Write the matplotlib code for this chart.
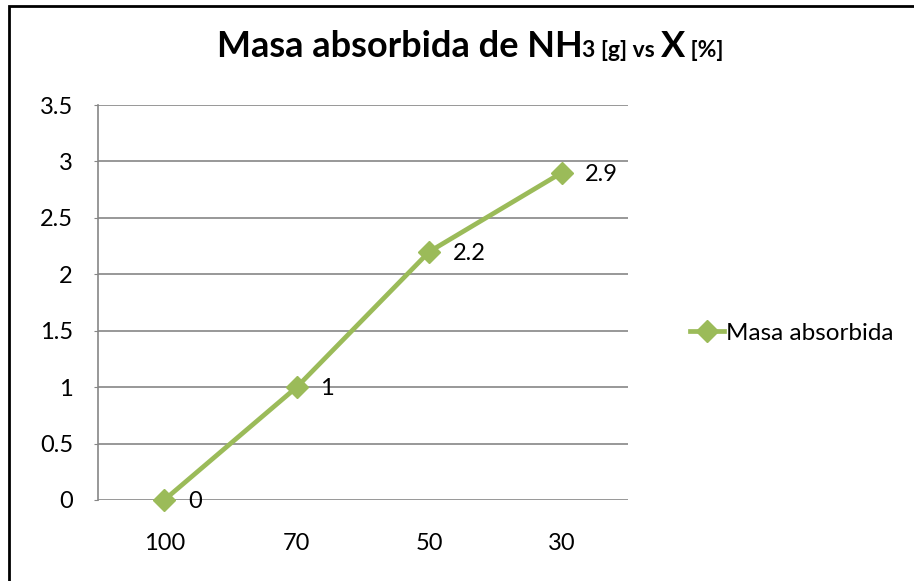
import matplotlib
matplotlib.use('Agg')
import matplotlib.pyplot as plt
from matplotlib.patches import Rectangle

# Datos del grafico
categorias = ['100', '70', '50', '30']
masa_absorbida = [0, 1, 2.2, 2.9]
etiquetas = ['0', '1', '2.2', '2.9']
yticks = [0, 0.5, 1, 1.5, 2, 2.5, 3, 3.5]
ytick_labels = ['0', '0.5', '1', '1.5', '2', '2.5', '3', '3.5']

verde = '#9BBB59'
gris = '#868686'
fuente = ['Lato', 'DejaVu Sans']
plt.rcParams['font.family'] = fuente

fig = plt.figure(figsize=(9.14, 5.81), dpi=100)
ax = fig.add_axes([98 / 914, 1 - 500 / 581, 530 / 914, 395 / 581])

x = list(range(len(categorias)))
linea, = ax.plot(x, masa_absorbida, color=verde, linewidth=3.4, marker='D',
                 markersize=11, label='Masa absorbida', zorder=3, clip_on=False)

for xi, yi, txt in zip(x, masa_absorbida, etiquetas):
    ax.annotate(txt, (xi, yi), xytext=(17, -1), textcoords='offset points',
                ha='left', va='center', fontsize=17, color='black')

ax.set_xlim(-0.5, len(categorias) - 0.5)
ax.set_ylim(0, 3.5)
ax.set_xticks(x)
ax.set_xticklabels(categorias, fontsize=17)
ax.set_yticks(yticks)
ax.set_yticklabels(ytick_labels, fontsize=17)
ax.tick_params(axis='x', length=0, pad=24)
ax.tick_params(axis='y', length=3, color=gris, pad=15)
ax.grid(axis='y', color=gris, linewidth=1.2)
ax.set_axisbelow(True)
for lado in ['top', 'right', 'bottom']:
    ax.spines[lado].set_visible(False)
ax.spines['left'].set_color(gris)
ax.spines['left'].set_linewidth(1.2)

fig.legend(handles=[linea], loc='center left', bbox_to_anchor=(690 / 914, 1 - 333 / 581),
           frameon=False, fontsize=17.5, handlelength=1.4, handletextpad=0.1,
           borderpad=0, borderaxespad=0)

# Titulo con partes pequenas
partes = [('Masa absorbida de NH', 26), ('3 [g] vs ', 16.5), ('X', 26), (' [%]', 16.5)]
fig.canvas.draw()
renderer = fig.canvas.get_renderer()
textos = []
for s, tam in partes:
    t = fig.text(0, 1 - 57 / 581, s, fontsize=tam, fontweight='bold', va='baseline', ha='left')
    textos.append(t)
anchos = [t.get_window_extent(renderer).width for t in textos]
x0 = 470 - sum(anchos) / 2
for t, w in zip(textos, anchos):
    t.set_x(x0 / 914)
    x0 += w

# Borde del grafico
fig.patches.append(Rectangle((9 / 914, -0.1), 1.0, 1.1 - 6 / 581, transform=fig.transFigure,
                             fill=False, edgecolor='black', linewidth=2))

fig.savefig('out.png', dpi=100)
